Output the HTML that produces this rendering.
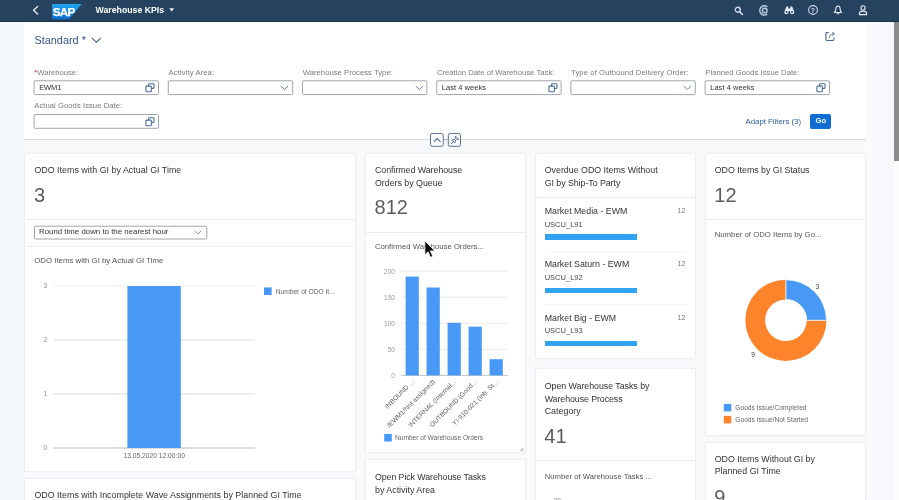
<!DOCTYPE html>
<html lang="en">
<head>
<meta charset="utf-8">
<title>Warehouse KPIs</title>
<style>
html,body{margin:0;padding:0;}
body{width:899px;height:500px;overflow:hidden;position:relative;background:#f8fafc;font-family:"Liberation Sans",sans-serif;}
#root{position:absolute;left:0;top:0;width:899px;height:500px;overflow:hidden;will-change:transform;}
.abs,.t,.card,.sep,.inp,.bar{position:absolute;}
.t{white-space:nowrap;}
#shell{left:0;top:0;width:899px;height:21px;background:#25425e;border-bottom:1px solid #1d3249;}
#panel{left:24px;top:22px;width:842px;height:117px;background:#fff;}
.card{background:#fff;border:1px solid #eceef2;border-radius:2px;box-shadow:0 0 2px rgba(120,140,170,.08);box-sizing:border-box;}
.sep{height:1px;background:#e8ebef;}
.inp{box-sizing:border-box;border:1px solid #949aa1;background:#fff;border-radius:1px;}
.bar{background:#31a4f1;}
svg{position:absolute;overflow:visible;}
</style>
</head>
<body>
<div id="root">

<div id="shell" class="abs"></div>
<svg style="left:30px;top:4px" width="12" height="14" viewBox="0 0 12 14"><path d="M7.6 2.6 L3.6 6.3 L7.6 10" fill="none" stroke="#e3e9f2" stroke-width="1.4" stroke-linecap="round" stroke-linejoin="round"/></svg>
<svg style="left:52px;top:3.5px" width="30" height="16" viewBox="0 0 30 16">
<defs><linearGradient id="sapg" x1="0" y1="0" x2="0" y2="1"><stop offset="0" stop-color="#22a4ec"/><stop offset="1" stop-color="#0c6fd0"/></linearGradient></defs>
<polygon points="0,0 29.6,0 17.3,15.2 0,15.2" fill="url(#sapg)"/>
<text x="0.8" y="11.5" font-family="Liberation Sans, sans-serif" font-weight="bold" font-size="11.7" letter-spacing="-0.75" fill="#fff" stroke="#fff" stroke-width=".25">SAP</text>
</svg>
<div class="t" style="top:3.97px;font-size:8.75px;line-height:12.25px;height:12.25px;color:#fff;font-weight:bold;left:95.60px;letter-spacing:-0.023px;">Warehouse KPIs</div>
<svg style="left:168.9px;top:8px" width="6" height="4" viewBox="0 0 6 4"><polygon points="0.3,0.3 5.2,0.3 2.75,3.4" fill="#eef2f7"/></svg>
<svg style="left:734px;top:5.6px" width="10" height="10" viewBox="0 0 10 10"><circle cx="3.8" cy="3.8" r="2.5" fill="none" stroke="#c9d7e9" stroke-width="1.4"/><path d="M5.8 5.8 L8.4 8.3" stroke="#c9d7e9" stroke-width="1.6" stroke-linecap="round"/></svg>
<svg style="left:758.8px;top:4.9px" width="10" height="11" viewBox="0 0 10 11"><path d="M8.3 2.0 A4.5 4.6 0 1 0 8.3 8.9" fill="none" stroke="#b9cce3" stroke-width="1.5"/><circle cx="5.7" cy="5.45" r="2.3" fill="none" stroke="#b9cce3" stroke-width="1.5"/></svg>
<svg style="left:783.7px;top:5.4px" width="10.6" height="10" viewBox="0 0 10 10"><path d="M2.1 1.4 h1.9 v2.2 h2 v-2.2 h1.9 l1.9 5 a2.1 2.1 0 1 1 -4.1 .6 v-.9 h-1.4 v.9 a2.1 2.1 0 1 1 -4.1 -.6 z" fill="#e4ebf4"/><circle cx="2.3" cy="6.9" r="1" fill="#294260"/><circle cx="7.7" cy="6.9" r="1" fill="#294260"/></svg>
<svg style="left:808.2px;top:5.2px" width="10" height="10" viewBox="0 0 10 10"><circle cx="5" cy="5" r="4.4" fill="none" stroke="#c9d7e9" stroke-width="1.1"/><text x="5" y="7.6" text-anchor="middle" font-family="Liberation Sans, sans-serif" font-weight="bold" font-size="7" fill="#c9d7e9">?</text></svg>
<svg style="left:833.2px;top:5.4px" width="10" height="10" viewBox="0 0 10 10"><path d="M5 1 C3.1 1 2.8 2.8 2.8 4.3 C2.8 6 2.2 6.7 1.4 7.5 H8.6 C7.8 6.7 7.2 6 7.2 4.3 C7.2 2.8 6.9 1 5 1 Z" fill="none" stroke="#e4ebf4" stroke-width="1.1" stroke-linejoin="round"/><path d="M4.1 8.7 H5.9" stroke="#e4ebf4" stroke-width="1.1" stroke-linecap="round"/></svg>
<svg style="left:857.9px;top:5.0px" width="10" height="10.4" viewBox="0 0 10 10.4"><circle cx="5" cy="2.9" r="2.1" fill="none" stroke="#e4ebf4" stroke-width="1.1"/><path d="M1.4 9.6 V8.6 C1.4 6.9 2.9 6.1 5 6.1 C7.1 6.1 8.6 6.9 8.6 8.6 V9.6 Z" fill="none" stroke="#e4ebf4" stroke-width="1.1" stroke-linejoin="round"/></svg>
<div class="abs" style="left:0;top:22px;width:24px;height:478px;background:#f4f7fb"></div>
<div class="abs" style="left:866px;top:22px;width:28px;height:478px;background:linear-gradient(90deg,#fafbfd,#f5f7fb)"></div>
<div id="panel" class="abs"></div>
<div class="t" style="top:33.07px;font-size:10.9px;line-height:15.26px;height:15.26px;color:#35568a;left:34.40px;letter-spacing:0.009px;">Standard *</div>
<svg style="left:90.6px;top:37.4px" width="11" height="7" viewBox="0 0 11 7"><path d="M1 1.2 L5.3 5.4 L9.6 1.2" fill="none" stroke="#44638f" stroke-width="1.1" stroke-linecap="round" stroke-linejoin="round"/></svg>
<svg style="left:824.6px;top:30.9px" width="12" height="11" viewBox="0 0 12 11"><path d="M3.6 1.6 H1.8 Q0.9 1.6 .9 2.5 V8.6 Q.9 9.5 1.8 9.5 H8 Q8.9 9.5 8.9 8.6 V6.4" fill="none" stroke="#4a6a94" stroke-width="1.1"/><path d="M4.3 6.9 C4.6 4.6 5.9 3.2 8.4 2.9" fill="none" stroke="#4a6a94" stroke-width="1"/><path d="M7.3 1.3 L9.5 2.8 L7.5 4.6" fill="none" stroke="#4a6a94" stroke-width="1" stroke-linejoin="round"/></svg>
<div class="t" style="top:67.61px;font-size:7.7px;line-height:10.78px;height:10.78px;color:#7b7b7b;left:34.30px;letter-spacing:-0.021px;"><span style="color:#c0272d">*</span>Warehouse:</div>
<svg style="left:0;top:0" width="899" height="500"><rect x="34.10" y="80.80" width="124.40" height="13.80" rx="1" fill="#fff" stroke="#a0a5ab" stroke-width="1"/></svg>
<div class="t" style="top:83.25px;font-size:7.5px;line-height:10.5px;height:10.5px;color:#333;left:39.20px;letter-spacing:-0.125px;">EWM1</div>
<svg style="left:145.1px;top:83.0px" width="10" height="10" viewBox="0 0 10 10"><rect x="3.6" y="0.8" width="5.4" height="4.6" rx=".8" fill="#fff" stroke="#4d6b96" stroke-width="1.1"/><rect x="0.9" y="3.1" width="5.4" height="5.6" rx=".8" fill="#fff" stroke="#4d6b96" stroke-width="1.1"/></svg>
<div class="t" style="top:67.61px;font-size:7.7px;line-height:10.78px;height:10.78px;color:#7b7b7b;left:168.50px;letter-spacing:0.092px;">Activity Area:</div>
<svg style="left:0;top:0" width="899" height="500"><rect x="168.30" y="80.80" width="124.40" height="13.80" rx="1" fill="#fff" stroke="#a0a5ab" stroke-width="1"/></svg>
<svg style="left:280.4px;top:84.89999999999999px" width="9" height="6" viewBox="0 0 9 6"><path d="M1 1.2 L4.4 4.5 L7.8 1.2" fill="none" stroke="#6585b3" stroke-width="1" stroke-linecap="round" stroke-linejoin="round"/></svg>
<div class="t" style="top:67.61px;font-size:7.7px;line-height:10.78px;height:10.78px;color:#7b7b7b;left:302.70px;letter-spacing:0.018px;">Warehouse Process Type:</div>
<svg style="left:0;top:0" width="899" height="500"><rect x="302.50" y="80.80" width="124.40" height="13.80" rx="1" fill="#fff" stroke="#a0a5ab" stroke-width="1"/></svg>
<svg style="left:414.59999999999997px;top:84.89999999999999px" width="9" height="6" viewBox="0 0 9 6"><path d="M1 1.2 L4.4 4.5 L7.8 1.2" fill="none" stroke="#6585b3" stroke-width="1" stroke-linecap="round" stroke-linejoin="round"/></svg>
<div class="t" style="top:67.61px;font-size:7.7px;line-height:10.78px;height:10.78px;color:#7b7b7b;left:436.90px;letter-spacing:0.013px;">Creation Date of Warehouse Task:</div>
<svg style="left:0;top:0" width="899" height="500"><rect x="436.70" y="80.80" width="124.40" height="13.80" rx="1" fill="#fff" stroke="#a0a5ab" stroke-width="1"/></svg>
<div class="t" style="top:83.25px;font-size:7.5px;line-height:10.5px;height:10.5px;color:#333;left:441.80px;letter-spacing:0.044px;">Last 4 weeks</div>
<svg style="left:547.6999999999999px;top:83.0px" width="10" height="10" viewBox="0 0 10 10"><rect x="3.6" y="0.8" width="5.4" height="4.6" rx=".8" fill="#fff" stroke="#4d6b96" stroke-width="1.1"/><rect x="0.9" y="3.1" width="5.4" height="5.6" rx=".8" fill="#fff" stroke="#4d6b96" stroke-width="1.1"/></svg>
<div class="t" style="top:67.61px;font-size:7.7px;line-height:10.78px;height:10.78px;color:#7b7b7b;left:571.10px;letter-spacing:0.083px;">Type of Outbound Delivery Order:</div>
<svg style="left:0;top:0" width="899" height="500"><rect x="570.90" y="80.80" width="124.40" height="13.80" rx="1" fill="#fff" stroke="#a0a5ab" stroke-width="1"/></svg>
<svg style="left:682.9999999999999px;top:84.89999999999999px" width="9" height="6" viewBox="0 0 9 6"><path d="M1 1.2 L4.4 4.5 L7.8 1.2" fill="none" stroke="#6585b3" stroke-width="1" stroke-linecap="round" stroke-linejoin="round"/></svg>
<div class="t" style="top:67.61px;font-size:7.7px;line-height:10.78px;height:10.78px;color:#7b7b7b;left:705.30px;letter-spacing:0.009px;">Planned Goods Issue Date:</div>
<svg style="left:0;top:0" width="899" height="500"><rect x="705.10" y="80.80" width="124.40" height="13.80" rx="1" fill="#fff" stroke="#a0a5ab" stroke-width="1"/></svg>
<div class="t" style="top:83.25px;font-size:7.5px;line-height:10.5px;height:10.5px;color:#333;left:710.20px;letter-spacing:0.044px;">Last 4 weeks</div>
<svg style="left:816.1px;top:83.0px" width="10" height="10" viewBox="0 0 10 10"><rect x="3.6" y="0.8" width="5.4" height="4.6" rx=".8" fill="#fff" stroke="#4d6b96" stroke-width="1.1"/><rect x="0.9" y="3.1" width="5.4" height="5.6" rx=".8" fill="#fff" stroke="#4d6b96" stroke-width="1.1"/></svg>
<div class="t" style="top:101.31px;font-size:7.7px;line-height:10.78px;height:10.78px;color:#7b7b7b;left:34.30px;letter-spacing:0.029px;">Actual Goods Issue Date:</div>
<svg style="left:0;top:0" width="899" height="500"><rect x="34.10" y="114.50" width="124.40" height="13.80" rx="1" fill="#fff" stroke="#a0a5ab" stroke-width="1"/></svg>
<svg style="left:145.1px;top:116.7px" width="10" height="10" viewBox="0 0 10 10"><rect x="3.6" y="0.8" width="5.4" height="4.6" rx=".8" fill="#fff" stroke="#4d6b96" stroke-width="1.1"/><rect x="0.9" y="3.1" width="5.4" height="5.6" rx=".8" fill="#fff" stroke="#4d6b96" stroke-width="1.1"/></svg>
<div class="t" style="top:116.74px;font-size:7.8px;line-height:10.92px;height:10.92px;color:#2c5c9c;left:745.50px;letter-spacing:0.001px;">Adapt Filters (3)</div>
<div class="abs" style="left:810px;top:114px;width:20.5px;height:14.7px;background:#0d6dd3;border-radius:2px;"></div>
<div class="t" style="top:116.48px;font-size:7.6px;line-height:10.64px;height:10.64px;color:#fff;font-weight:bold;left:815.60px;">Go</div>
<div class="abs" style="left:24px;top:139.3px;width:842px;height:1px;background:#d9dde3"></div>
<div class="abs" style="left:24px;top:140px;width:842px;height:13px;background:#f6f8fa"></div>
<svg style="left:0;top:0" width="899" height="500"><rect x="430.5" y="133.5" width="12.8" height="12.8" rx="1.8" fill="#fafcff" stroke="#5a7192"/><rect x="448.3" y="133.5" width="12.2" height="12.8" rx="1.8" fill="#fafcff" stroke="#5a7192"/></svg>
<div class="abs" style="left:443.8px;top:139.2px;width:4px;height:1px;background:#a9b4c4"></div>
<svg style="left:432.5px;top:136.5px" width="9" height="6" viewBox="0 0 9 6"><path d="M1.2 4.6 L4.2 1.5 L7.2 4.6" fill="none" stroke="#5a7192" stroke-width="1.1" stroke-linecap="round" stroke-linejoin="round"/></svg>
<svg style="left:450px;top:135px" width="10" height="10" viewBox="0 0 10 10"><path d="M5.6 1.2 L8.6 4.2 L7.7 4.6 L6.6 4.4 L5.2 5.9 L5.3 7.3 L4.6 7.9 L2 5.3 L2.6 4.6 L4 4.7 L5.5 3.3 L5.2 2.1 Z" fill="#e9eff7" stroke="#5a7192" stroke-width="1" stroke-linejoin="round"/><path d="M3.2 6.7 L1.4 8.6" stroke="#5a7192" stroke-width="1" stroke-linecap="round"/></svg>
<div class="card" style="left:24.4px;top:153px;width:332.1px;height:319px"></div>
<div class="t" style="top:163.71px;font-size:8.85px;line-height:12.39px;height:12.39px;color:#333;left:34.40px;letter-spacing:0.027px;">ODO Items with GI by Actual GI Time</div>
<div class="t" style="top:181.20px;font-size:20px;line-height:28.0px;height:28.0px;color:#5c5c5c;left:34.00px;">3</div>
<div class="sep" style="left:26px;top:219px;width:329.5px"></div>
<svg style="left:0;top:0" width="899" height="500"><rect x="34.50" y="226.20" width="172.30" height="12.80" rx="1" fill="#fff" stroke="#a0a5ab" stroke-width="1"/></svg>
<div class="t" style="top:227.10px;font-size:7.85px;line-height:10.99px;height:10.99px;color:#333;left:39.00px;letter-spacing:0.012px;">Round time down to the nearest hour</div>
<svg style="left:194.2px;top:230.2px" width="8" height="5.3" viewBox="0 0 9 6"><path d="M1 1.2 L4.4 4.5 L7.8 1.2" fill="none" stroke="#74839a" stroke-width="1" stroke-linecap="round" stroke-linejoin="round"/></svg>
<div class="sep" style="left:26px;top:246px;width:329.5px"></div>
<div class="t" style="top:255.64px;font-size:7.8px;line-height:10.92px;height:10.92px;color:#555;left:34.30px;letter-spacing:0.008px;">ODO Items with GI by Actual GI Time</div>
<svg style="left:0;top:0" width="899" height="500" viewBox="0 0 899 500">
<line x1="53.5" y1="286.0" x2="255" y2="286.0" stroke="#eeeeee" stroke-width="1"/>
<text x="45.4" y="288.3" text-anchor="middle" font-size="6.6" fill="#8c8c8c">3</text>
<line x1="53.5" y1="340.0" x2="255" y2="340.0" stroke="#dcdcdc" stroke-width="1"/>
<text x="45.4" y="342.3" text-anchor="middle" font-size="6.6" fill="#8c8c8c">2</text>
<line x1="53.5" y1="394.0" x2="255" y2="394.0" stroke="#dcdcdc" stroke-width="1"/>
<text x="45.4" y="396.3" text-anchor="middle" font-size="6.6" fill="#8c8c8c">1</text>
<line x1="53.5" y1="448.0" x2="255" y2="448.0" stroke="#b9b9b9" stroke-width="1"/>
<text x="45.4" y="450.3" text-anchor="middle" font-size="6.6" fill="#8c8c8c">0</text>
<rect x="127.4" y="286.0" width="53.4" height="162.0" fill="#4799f5"/>
<text x="154.2" y="458.3" text-anchor="middle" font-size="6.7" fill="#666">13.05.2020 12:00:00</text>
<rect x="264" y="287.4" width="7.6" height="7.6" fill="#4799f5"/>
<text x="275.7" y="293.6" font-size="6.65" fill="#666">Number of ODO It...</text>
</svg>
<div class="card" style="left:24.4px;top:478px;width:332.1px;height:40px"></div>
<div class="t" style="top:488.50px;font-size:8.85px;line-height:12.39px;height:12.39px;color:#333;left:34.40px;letter-spacing:0.027px;">ODO Items with Incomplete Wave Assignments by Planned GI Time</div>
<div class="card" style="left:365px;top:153px;width:161px;height:300.4px"></div>
<div class="t" style="top:163.71px;font-size:8.85px;line-height:12.39px;height:12.39px;color:#333;left:375.00px;letter-spacing:-0.048px;">Confirmed Warehouse</div>
<div class="t" style="top:176.71px;font-size:8.85px;line-height:12.39px;height:12.39px;color:#333;left:375.00px;letter-spacing:-0.019px;">Orders by Queue</div>
<div class="t" style="top:193.00px;font-size:20px;line-height:28.0px;height:28.0px;color:#5c5c5c;left:374.60px;">812</div>
<div class="sep" style="left:366px;top:231.5px;width:159px"></div>
<div class="t" style="top:242.11px;font-size:7.7px;line-height:10.78px;height:10.78px;color:#555;left:375.00px;letter-spacing:0.006px;">Confirmed Warehouse Orders...</div>
<svg style="left:0;top:0" width="899" height="500" viewBox="0 0 899 500">
<line x1="401" y1="271.2" x2="508" y2="271.2" stroke="#e9e9e9" stroke-width="1"/>
<text x="395" y="273.5" text-anchor="end" font-size="6.6" fill="#9a9a9a">200</text>
<line x1="401" y1="297.2" x2="508" y2="297.2" stroke="#e9e9e9" stroke-width="1"/>
<text x="395" y="299.6" text-anchor="end" font-size="6.6" fill="#9a9a9a">150</text>
<line x1="401" y1="323.3" x2="508" y2="323.3" stroke="#e9e9e9" stroke-width="1"/>
<text x="395" y="325.6" text-anchor="end" font-size="6.6" fill="#9a9a9a">100</text>
<line x1="401" y1="349.3" x2="508" y2="349.3" stroke="#e9e9e9" stroke-width="1"/>
<text x="395" y="351.6" text-anchor="end" font-size="6.6" fill="#9a9a9a">50</text>
<line x1="401" y1="375.4" x2="508" y2="375.4" stroke="#c4c4c4" stroke-width="1"/>
<text x="395" y="377.7" text-anchor="end" font-size="6.6" fill="#9a9a9a">0</text>
<rect x="405.6" y="276.6" width="13.2" height="98.8" fill="#4799f5"/>
<text transform="translate(414.4,382.3) rotate(-45)" text-anchor="end" font-size="6.65" fill="#5c5c5c">INBOUND ...</text>
<rect x="426.6" y="287.5" width="13.2" height="87.9" fill="#4799f5"/>
<text transform="translate(435.4,382.3) rotate(-45)" text-anchor="end" font-size="6.65" fill="#5c5c5c">/EWM1/Not assigned)</text>
<rect x="447.6" y="322.8" width="13.2" height="52.6" fill="#4799f5"/>
<text transform="translate(456.4,382.3) rotate(-45)" text-anchor="end" font-size="6.65" fill="#5c5c5c">INTERNAL (Internal...</text>
<rect x="468.6" y="326.7" width="13.2" height="48.7" fill="#4799f5"/>
<text transform="translate(477.4,382.3) rotate(-45)" text-anchor="end" font-size="6.65" fill="#5c5c5c">OUTBOUND (Good...</text>
<rect x="489.6" y="359.2" width="13.2" height="16.2" fill="#4799f5"/>
<text transform="translate(498.4,382.3) rotate(-45)" text-anchor="end" font-size="6.65" fill="#5c5c5c">YI-910-021 (Inb. St...</text>
<rect x="384.2" y="433.9" width="7.6" height="7.6" fill="#4799f5"/>
<text x="395" y="439.9" font-size="6.6" fill="#666">Number of Warehouse Orders</text>
<path d="M523.3 448 L520.3 451 M523.3 450 L522.3 451" stroke="#8a93a3" stroke-width=".8"/>
</svg>
<svg style="left:423.6px;top:239.8px" width="13" height="19.6" viewBox="0 0 12 18"><path d="M0.8 0.8 V13.6 L3.8 10.8 L6 15.9 L8.1 15 L5.9 10 L10 10 Z" fill="#0b0b0b" stroke="#fff" stroke-width=".7" stroke-linejoin="round"/></svg>
<div class="card" style="left:365px;top:458.5px;width:161px;height:60px"></div>
<div class="t" style="top:470.50px;font-size:8.85px;line-height:12.39px;height:12.39px;color:#333;left:375.00px;letter-spacing:-0.094px;">Open Pick Warehouse Tasks</div>
<div class="t" style="top:483.50px;font-size:8.85px;line-height:12.39px;height:12.39px;color:#333;left:375.00px;">by Activity Area</div>
<div class="card" style="left:535px;top:153px;width:161px;height:205.6px"></div>
<div class="t" style="top:163.71px;font-size:8.85px;line-height:12.39px;height:12.39px;color:#333;left:544.70px;letter-spacing:-0.005px;">Overdue ODO Items Without</div>
<div class="t" style="top:176.71px;font-size:8.85px;line-height:12.39px;height:12.39px;color:#333;left:544.70px;letter-spacing:-0.059px;">GI by Ship-To Party</div>
<div class="sep" style="left:536px;top:197px;width:159px"></div>
<div class="t" style="top:205.04px;font-size:8.8px;line-height:12.32px;height:12.32px;color:#333;left:544.70px;">Market Media - EWM</div>
<div class="t" style="top:206.10px;font-size:7px;line-height:9.8px;height:9.8px;color:#777;right:213.60px;text-align:right;">12</div>
<div class="t" style="top:219.65px;font-size:7.5px;line-height:10.5px;height:10.5px;color:#444;left:544.70px;letter-spacing:0.008px;">USCU_L91</div>
<div class="bar" style="left:544.7px;top:234.3px;width:92px;height:5.5px"></div>
<div class="sep" style="left:544.7px;top:250.6px;width:141px;background:#f4f5f7"></div>
<div class="t" style="top:258.34px;font-size:8.8px;line-height:12.32px;height:12.32px;color:#333;left:544.70px;">Market Saturn - EWM</div>
<div class="t" style="top:259.40px;font-size:7px;line-height:9.8px;height:9.8px;color:#777;right:213.60px;text-align:right;">12</div>
<div class="t" style="top:272.95px;font-size:7.5px;line-height:10.5px;height:10.5px;color:#444;left:544.70px;letter-spacing:0.008px;">USCU_L92</div>
<div class="bar" style="left:544.7px;top:287.6px;width:92px;height:5.5px"></div>
<div class="sep" style="left:544.7px;top:303.9px;width:141px;background:#f4f5f7"></div>
<div class="t" style="top:311.64px;font-size:8.8px;line-height:12.32px;height:12.32px;color:#333;left:544.70px;">Market Big - EWM</div>
<div class="t" style="top:312.70px;font-size:7px;line-height:9.8px;height:9.8px;color:#777;right:213.60px;text-align:right;">12</div>
<div class="t" style="top:326.25px;font-size:7.5px;line-height:10.5px;height:10.5px;color:#444;left:544.70px;letter-spacing:0.008px;">USCU_L93</div>
<div class="bar" style="left:544.7px;top:340.9px;width:92px;height:5.5px"></div>
<div class="card" style="left:535px;top:368px;width:161px;height:160px"></div>
<div class="t" style="top:379.91px;font-size:8.85px;line-height:12.39px;height:12.39px;color:#333;left:544.70px;letter-spacing:-0.042px;">Open Warehouse Tasks by</div>
<div class="t" style="top:392.70px;font-size:8.85px;line-height:12.39px;height:12.39px;color:#333;left:544.70px;letter-spacing:-0.086px;">Warehouse Process</div>
<div class="t" style="top:405.11px;font-size:8.85px;line-height:12.39px;height:12.39px;color:#333;left:544.70px;letter-spacing:0.024px;">Category</div>
<div class="t" style="top:422.00px;font-size:20px;line-height:28.0px;height:28.0px;color:#5c5c5c;left:544.30px;">41</div>
<div class="sep" style="left:536px;top:460px;width:159px"></div>
<div class="t" style="top:471.51px;font-size:7.7px;line-height:10.78px;height:10.78px;color:#555;left:544.70px;letter-spacing:-0.004px;">Number of Warehouse Tasks ...</div>
<svg style="left:0;top:0" width="899" height="500" viewBox="0 0 899 500"><text x="561" y="502.9" text-anchor="end" font-size="6.6" fill="#8c8c8c">30</text></svg>
<div class="card" style="left:705px;top:153px;width:161px;height:282.5px"></div>
<div class="t" style="top:163.71px;font-size:8.85px;line-height:12.39px;height:12.39px;color:#333;left:714.70px;letter-spacing:-0.028px;">ODO Items by GI Status</div>
<div class="t" style="top:181.00px;font-size:20px;line-height:28.0px;height:28.0px;color:#5c5c5c;left:714.30px;">12</div>
<div class="sep" style="left:706px;top:219px;width:159px"></div>
<div class="t" style="top:230.17px;font-size:7.75px;line-height:10.85px;height:10.85px;color:#555;left:714.70px;letter-spacing:0.015px;">Number of ODO Items by Go...</div>
<svg style="left:0;top:0" width="899" height="500" viewBox="0 0 899 500">
<path d="M826.5 320.3 A40.6 40.6 0 1 1 785.9 279.7 L785.9 299.5 A20.8 20.8 0 1 0 806.6999999999999 320.3 Z" fill="#fd842b"/>
<path d="M785.9 279.7 A40.6 40.6 0 0 1 826.5 320.3 L806.6999999999999 320.3 A20.8 20.8 0 0 0 785.9 299.5 Z" fill="#4799f5" stroke="#fff" stroke-width=".8"/>
<text x="817.4" y="288.6" text-anchor="middle" font-size="6.6" fill="#3a3a3a">3</text>
<text x="753" y="356.8" text-anchor="middle" font-size="6.6" fill="#3a3a3a">9</text>
<rect x="723.8" y="403.9" width="7.5" height="7.5" fill="#4799f5"/>
<rect x="723.8" y="415.9" width="7.5" height="7.5" fill="#fd842b"/>
<text x="735.3" y="410" font-size="6.65" fill="#666">Goods Issue/Completed</text>
<text x="735.3" y="422" font-size="6.65" fill="#666">Goods Issue/Not Started</text>
</svg>
<div class="card" style="left:705px;top:442px;width:161px;height:80px"></div>
<div class="t" style="top:452.70px;font-size:8.85px;line-height:12.39px;height:12.39px;color:#333;left:714.70px;letter-spacing:-0.001px;">ODO Items Without GI by</div>
<div class="t" style="top:465.31px;font-size:8.85px;line-height:12.39px;height:12.39px;color:#333;left:714.70px;letter-spacing:0.012px;">Planned GI Time</div>
<div class="t" style="top:482.80px;font-size:20px;line-height:28.0px;height:28.0px;color:#5c5c5c;left:714.30px;">9</div>
<div class="abs" style="left:893.5px;top:22px;width:5.5px;height:478px;background:#fbfbfc"></div>
<div class="abs" style="left:894px;top:22px;width:5px;height:139px;background:#8b8b8b"></div>
</div>
</body>
</html>
